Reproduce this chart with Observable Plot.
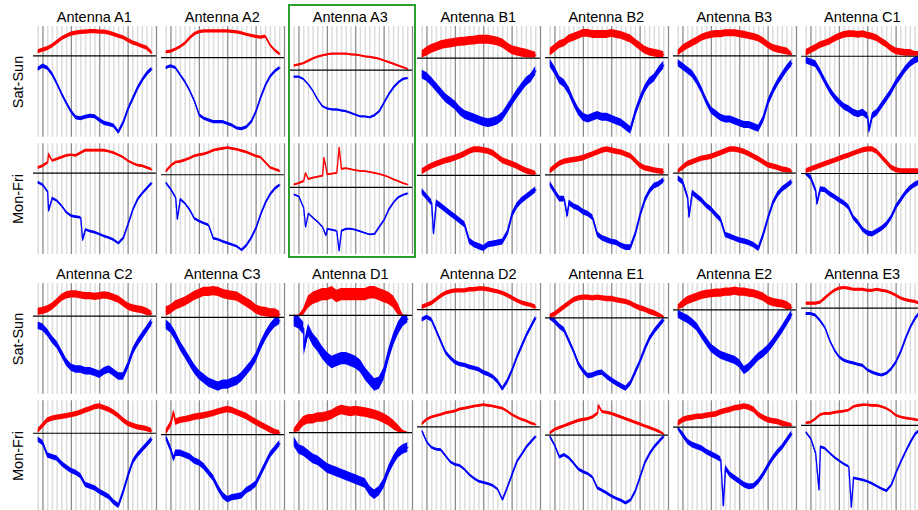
<!DOCTYPE html>
<html><head><meta charset="utf-8">
<script src="https://cdn.jsdelivr.net/npm/d3@7"></script>
<script src="https://cdn.jsdelivr.net/npm/@observablehq/plot@0.6"></script>
<style>
html,body{margin:0;padding:0;background:#fff;overflow:hidden;}
#chart{position:relative;width:918px;height:510px;overflow:hidden;font-family:"Liberation Sans",Arial,Helvetica,sans-serif;color:#000;}
.ttl{position:absolute;width:123px;text-align:center;font-size:14.5px;line-height:16px;white-space:nowrap;}
.rowlab{position:absolute;width:90px;height:16px;text-align:center;font-size:14.5px;line-height:16px;transform:rotate(-90deg);transform-origin:50% 50%;white-space:nowrap;}
.panel{position:absolute;width:125px;height:254px;}
.panel svg{display:block;max-width:none;}
.hl{position:absolute;border:2px solid #2ca02c;box-sizing:border-box;}
</style></head><body><div id="chart"></div><script>
// ---------- data ----------
const antennas = ["A1","A2","A3","B1","B2","B3","C1","C2","C3","D1","D2","E1","E2","E3"];
const periods = ["Sat-Sun","Mon-Fri"];
const hours = d3.range(-1, 24); // one value per hour, -1 .. 23
const highlighted = "A3";

const redSatSun = [
 [4,5.5,7,9.5,13,16.5,19,21,22,22.7,23,23.5,23.5,23,23,22,20.5,19,17.5,15,12.5,11,9,7.5,3],
 [5,5.7,7.7,10,13.3,18.3,22.3,24.3,25,25,25,25,25,25,24.5,24,23,21.7,20.7,19.7,19,20,11.7,6.7,3.3],
 [4.3,5.3,6.7,9,11.3,13,14.3,15.3,16,16,16,16,15.3,15,14.3,13.3,12.7,12,11,9.3,7.7,6,4.3,2.7,1],
 [3.3,6,8.3,10,11.7,12.7,13.3,14,14.7,15,15.7,16,16.7,16.7,16.7,16,15,13.3,10,7.3,6,5,4,3.3,2.7],
 [5,8.3,11.7,13.3,16.7,18.3,20,21.7,21.7,20.7,20.7,20.7,20.7,21.7,20.7,20,18.3,16.7,13.3,10,6.7,5,4,3.3,2.7],
 [2.7,6.7,9.3,11.7,14,16.7,18.3,19.3,20,20,20.7,20.7,20.7,20,19.3,18.3,17.3,16,13.3,10,7.3,6,5,4,1.7],
 [3.3,5.7,8,10.7,12.3,14,16.7,19,20.7,21.3,21.3,20.7,21.3,20,19,17.3,14,11.3,7.3,4.7,4,3.3,3.3,2.3,2.3],
 [4,5,6.3,9,13,17.3,19.7,20.7,20.7,19.7,19,19,18.3,19,19.7,19,17.3,15.7,12.3,9,7.3,6.3,5.7,4,2.3],
 [5.3,7,10.3,12,13.7,16,18.7,20.3,22,22,22.7,22,20.3,19.3,18.7,18,15.3,12.7,10.3,7,5.3,4.7,3.7,3.7,2.7],
 [0,0,3,11.7,15,16.7,18.3,18.3,20,16.7,18.3,18.3,18.3,18.3,18.3,18.3,20,20,18.3,16.7,15,11.7,5,0,0],
 [2.3,4,5.7,9,12.3,15,16.3,17.3,17.3,17.3,18.3,18.3,19,19,18.3,17.3,16.3,15,13,10.7,8.3,6.3,5,4,2.3],
 [1.7,3.3,6.7,10,13.3,16.7,18.3,19,19,18.3,19,18.3,17.7,17.7,16.7,15.7,15,13.3,11,9,7.7,5.7,4.3,2.3,1],
 [2.3,5.7,9,10.7,12.3,14,15,15.7,16.3,16.3,17.3,17.3,18.3,17.3,17.3,16.3,15.7,14,12.3,9,7.3,6.3,5.7,4,2.3],
 [4.3,4.3,4.3,5.3,9.3,13.3,16.7,18.7,19.3,18.7,17.7,17.7,17.7,16.7,16.7,17.7,16.7,16,14.3,12,9.3,7.7,6.7,6,4.3]
];
const blueSatSun = [
 [-13,-10,-12,-18,-27,-37,-46,-54,-60,-61,-59.5,-58.5,-59,-62.5,-65.5,-66.5,-68,-74,-65,-52,-42,-32,-24,-17.5,-13],
 [-10,-8.3,-10,-16.7,-23.3,-31.7,-41.7,-55,-58.3,-60,-61.7,-61.7,-61.7,-63.3,-65,-67.7,-68.3,-66.7,-61.7,-51.7,-38.3,-26.7,-18.3,-13.3,-10],
 [-6.7,-6.7,-9,-14,-20.7,-29,-35.7,-38,-39,-39,-40,-40.7,-42.3,-44,-45.7,-45.7,-46.7,-44.7,-40.7,-32.3,-24,-17.3,-12.3,-9,-8],
 [-15,-17.3,-21.7,-26.7,-31.7,-36.7,-40,-43.3,-48.3,-51.7,-53.3,-55,-56.7,-58.3,-59.3,-58.3,-56.7,-53.3,-46.7,-40,-33.3,-27.3,-21.7,-18.3,-11.7],
 [-5,-11.7,-20,-23.3,-30,-40,-48.3,-53.3,-55,-53.3,-51.7,-53.3,-53.3,-55,-56.7,-58.3,-61.7,-65,-50,-38.3,-28.3,-21.7,-18.3,-11.7,-6.7],
 [-6.7,-10,-13.3,-16.7,-23.3,-31.7,-41.7,-50,-53.3,-56.7,-58.3,-58.3,-60,-61.7,-63.3,-63.3,-65,-66.7,-58.3,-43.3,-33.3,-25,-18.3,-11.7,-6.7],
 [-4.3,-6,-7.7,-15.3,-24.3,-32.7,-39.3,-44.3,-48.7,-51,-54.3,-56,-54.3,-58,-57.7,-54.3,-47.7,-41,-34.3,-26,-19.3,-12.7,-7.7,-4.3,-2.7],
 [-9.3,-11,-16,-22.7,-27.7,-36,-44.3,-49.3,-51,-51,-52.7,-52.7,-54.3,-56,-52.7,-51,-54.3,-57.7,-57.7,-47.7,-34.3,-26,-19.3,-12.7,-6],
 [-6.3,-9.7,-16.3,-24.7,-31.3,-38,-44.7,-49.7,-53,-56.3,-58,-59.7,-58,-58,-56.3,-54.7,-51.3,-46.3,-41.3,-34.7,-24.7,-16.3,-9.7,-4.7,-3],
 [-5,-6.7,-11.7,-13.3,-21.7,-26.7,-33.3,-38.3,-41.7,-40,-38.3,-38.3,-40,-41.7,-45,-51.7,-56.7,-61.7,-60,-51.7,-35,-21.7,-11.7,-5,-3.3],
 [-9.3,-7,-9.3,-19.3,-29.3,-39.3,-44.3,-48.3,-50.3,-51,-52.7,-53.7,-55,-57.7,-59.3,-61.7,-66,-72.7,-66,-56,-44.3,-34.3,-24.3,-16,-7.7],
 [-1,-3.3,-8.3,-11.7,-21.7,-31.7,-43.3,-50,-55,-54.3,-52.3,-51.7,-55.7,-59,-61.7,-64.3,-66.7,-61.7,-51.7,-41.7,-30,-20,-13.3,-7.7,-2.3],
 [-4.3,-7,-9.3,-12.7,-17,-24.3,-31,-37.7,-41,-44.3,-46,-47.7,-49.3,-52.7,-59.3,-56,-51,-46,-42.7,-38.3,-32.7,-26,-19.3,-11.7,-4.3],
 [-5.7,-5.7,-7.3,-12.3,-19,-31.3,-40.7,-47.3,-50.7,-52.3,-53.3,-54.7,-55.7,-60,-62.3,-64,-65,-63.3,-59,-52.3,-42.3,-30,-19,-10.7,-4.7]
];
const redMonFri = [
 [5,6.7,10,11.7,13.3,15,16.7,17.3,16.7,19.3,21.7,21.7,21.7,21.7,21.7,20.7,19.3,17.3,15,11.7,9.3,7.3,6.7,5,3.3],
 [3.3,8.3,11.7,12.3,13.7,15.5,17.7,18.7,19.5,21,23,24,24.8,25.5,24.7,23.8,22.5,21.3,19.5,17.5,16.5,11.7,6.7,5,3.5],
 [2.7,4,6,8,9.3,10.3,11.3,12.7,13.3,14,18,18.7,17.7,16.7,16,15.7,15,14,13,11.7,10,7.7,6,4,2.7],
 [3.3,6,8.3,10,11.7,13.3,14.3,15.7,17.3,19.3,21.7,23.3,23.3,22.7,21.7,20,16.7,13.3,11.7,10,8.3,6,4,2.7,1.7],
 [3.3,6.7,10,11.7,12.7,13.3,14,15,16.7,18.3,20,21.7,22.7,21.7,20.7,20,18.3,16.7,12.7,8.3,6,5,4,3.3,2.7],
 [1.7,5,8.3,10,11.7,13.3,14,15,16.7,18.3,20,21.7,21.7,20.7,19.3,17.3,15,12.7,10,7.3,6,5,3.3,2.7,1.7],
 [2.3,4,5.7,7.3,9,10.7,12.3,14,15.7,17.3,19,20.7,22.3,23.3,23.3,20.7,15.7,10.7,5.7,3.3,2.3,2.3,2.3,2.3,2.3],
 [2.3,7.3,12.3,14,15,15.7,16.3,17.3,18.3,19.7,21.7,23,25,25.7,24,22.3,19.7,16.3,12.3,9,7.3,5.7,5,4,2.3],
 [2.3,9,10.7,12.3,13,14,15,15.7,16.3,17.3,18.3,19.7,20.7,21.7,20.7,19,17.3,15.7,13,10.7,8.3,6.3,4,2.3,1.7],
 [1.7,5,10,11.7,11.7,13.3,13.3,14.3,15.7,18.3,20,19,18.3,19,18.3,17.7,16.7,15.7,14.3,12.3,10,6.7,3.3,1,0],
 [2.7,6.7,8.7,10,11,12.7,13.3,14.3,16,16.7,17.7,18.7,19.3,20,19.3,18.7,17.7,16.7,14.3,11,8.7,6.7,5.3,3.3,2],
 [1.7,5,6.7,8.3,10,11.7,13.3,14.3,15,16.7,20,21.7,21,20,18.3,16.7,15,13.3,11.7,10,8.3,6.7,5,3.3,1],
 [3.3,6.7,8.3,9,10,10,11,11.7,12.3,14.3,15.7,16.7,18.3,19,20,19,16.7,11.7,9,6.7,5.7,5,3.3,2.3,1.7],
 [2,2.7,6,10,11,11,12,12.7,13.3,14.3,17.7,18.7,19.3,19.3,18.7,18.7,17.7,16,13.3,9.3,7.7,6.7,6,5.3,4.3]
];
const blueMonFri = [
 [-9.3,-11.7,-18,-24.5,-27,-32,-38.3,-41.7,-42.7,-43.3,-55,-56.7,-57.7,-59.5,-61.5,-63,-65,-68.3,-63.3,-50,-36,-26,-20,-15,-10],
 [-8,-14,-21.7,-23.5,-27.5,-33.5,-42,-44.5,-46.5,-48.3,-61,-62,-64,-65.5,-67,-68.7,-72,-67.5,-60.5,-51,-38,-27,-19,-13.5,-10],
 [-7.3,-9,-20,-25.7,-30,-34,-39,-41,-42,-43,-43,-41,-41,-42,-43.5,-45,-46.5,-46,-39,-32.3,-22,-15,-10,-7.7,-6],
 [-15,-20,-25,-25,-28.3,-31.7,-35,-38.3,-41.7,-45,-60,-63.3,-65,-66.7,-63.3,-62.7,-61.7,-60.7,-53.3,-36.7,-28.3,-23.3,-20,-16.7,-13.3],
 [-8.3,-15,-21.7,-21.7,-25,-28.3,-30,-33.3,-35,-38.3,-53.3,-56.7,-58.3,-60,-60.7,-63.3,-65,-65,-53.3,-36.7,-23.3,-15,-10,-8.3,-5],
 [-5,-8.3,-22,-18,-21.7,-25,-30,-33.3,-38.3,-42.7,-56.7,-58.3,-60,-61.7,-62.7,-64,-66,-69.3,-56.7,-41.7,-28.3,-20,-15,-11.7,-8.3],
 [-1,-4.3,-16,-15.3,-16,-20,-22.7,-26,-28.7,-32.7,-42.7,-47.7,-54.3,-57.7,-58.7,-56,-53.3,-49.3,-42.7,-32.7,-26,-19.3,-14.3,-11,-8.7],
 [-6,-9.3,-21,-22.7,-24.3,-29.3,-32.7,-36,-37.7,-41,-49.3,-51,-52.7,-56,-58.3,-61,-66,-69.3,-56,-41,-27.7,-21,-16,-11,-6],
 [-2.7,-12.7,-16,-16,-17.7,-19.3,-22.7,-24.3,-27.7,-32.7,-37.7,-46,-52.7,-56,-54.3,-53.7,-52.7,-48.3,-46,-42.7,-34.3,-26,-17.7,-12.7,-7.7],
 [-8.3,-15,-16.7,-20,-23.3,-25,-28.3,-31.7,-33.3,-35,-36.7,-38.3,-40,-41.7,-43.3,-45,-51.7,-55,-51.7,-45,-33.3,-25,-18.3,-15,-13.3],
 [-4,-14,-19,-20.7,-21.3,-26.7,-32.3,-34.7,-35.7,-39,-44,-47.3,-50,-51.3,-52.3,-54,-57.3,-66.7,-55.7,-44,-32.3,-25.7,-19,-14,-9],
 [-1.7,-10,-21,-19,-21.7,-26.7,-32.3,-35,-36.7,-40,-50,-52.3,-55,-57.7,-60,-61.7,-64.3,-61.7,-53.3,-40,-26.7,-18.3,-11.7,-6.7,-1.7],
 [-1.7,-7.7,-14.3,-17.7,-19.3,-21,-24.3,-26.7,-29,-31.7,-40,-46.7,-50,-53.3,-56.7,-58.3,-57.7,-53.3,-46.7,-38.3,-31,-25,-20,-13.3,-6.7],
 [-7,-13,-27,-21,-22.5,-27,-31,-34.5,-37.5,-40,-51,-52,-53,-54.5,-56.5,-59,-61.5,-63.5,-58,-46,-35.7,-26,-17,-9,-5]
];
// short spikes between the hourly readings: [antenna, period, series, hour, value]
const spikes = [
 ["A1","Mon-Fri","red",1.2,18.3],["A1","Mon-Fri","blue",1.2,-36.7],["A1","Mon-Fri","blue",8.4,-65],
 ["A2","Mon-Fri","blue",1.36,-42.3],
 ["A3","Mon-Fri","red",1.4,14.3],["A3","Mon-Fri","red",5.3,29.3],["A3","Mon-Fri","red",8.5,39.3],
 ["A3","Mon-Fri","blue",1.4,-39],["A3","Mon-Fri","blue",5.7,-47.3],["A3","Mon-Fri","blue",8.5,-62.3],
 ["B1","Mon-Fri","blue",1.4,-53],
 ["B2","Mon-Fri","blue",2.6,-36.7],
 ["B3","Mon-Fri","blue",1.3,-40],
 ["C1","Sat-Sun","blue",12.3,-72],["C1","Mon-Fri","blue",1.3,-29],
 ["C3","Mon-Fri","red",0.6,19],["C3","Mon-Fri","blue",0.6,-21],
 ["D1","Sat-Sun","blue",1.1,-30],
 ["E1","Mon-Fri","red",9.2,28],
 ["E2","Mon-Fri","blue",8.55,-76.7],
 ["E3","Mon-Fri","blue",1.7,-62.3],["E3","Mon-Fri","blue",8.55,-79]
];
// visual thickness of the noisy traces (style, per antenna)
const noiseSatSun = [4,3,2,8,7,6.5,6.5,7,8,11,4,5,8,3];
const noiseMonFri = [2.5,2.5,1.5,5.5,5,5,5,5,5.5,8.5,2.5,3,5.5,2.5];

const minorHours = d3.range(-1, 25).filter(h => h % 6 !== 0);
const majorHours = [0, 6, 12, 18, 24];

// ---------- layout ----------
const chart = document.getElementById("chart");
const colStep = 128, left0 = 32.8, rowStep = 257, panelW = 123;

function series(i, period, kind) {
  const src = period === "Sat-Sun" ? (kind === "red" ? redSatSun : blueSatSun)
                                   : (kind === "red" ? redMonFri : blueMonFri);
  const pts = hours.map((t, j) => ({t, v: src[i][j]}));
  for (const [a, p, k, t, v] of spikes) if (a === antennas[i] && p === period && k === kind) pts.push({t, v});
  pts.sort((a, b) => a.t - b.t);
  const w = (period === "Sat-Sun" ? noiseSatSun : noiseMonFri)[i];
  return pts.map(d => {
    const h = Math.min(w / 2, Math.abs(d.v));
    const lo = kind === "red" ? Math.max(0, d.v - h) : d.v - h;
    const hi = kind === "red" ? d.v + h : Math.min(0, d.v + h);
    return {...d, period, kind, lo, hi};
  });
}

antennas.forEach((name, i) => {
  const col = i % 7, row = Math.floor(i / 7);
  const x0 = left0 + col * colStep, y0 = row * rowStep;
  const rows = [];
  for (const p of periods) for (const k of ["red", "blue"]) rows.push(...series(i, p, k));
  const vals = rows.flatMap(d => [d.lo, d.hi]);
  const dom = [Math.min(0, d3.min(vals)), Math.max(0, d3.max(vals))];

  const svg = Plot.plot({
    width: panelW + 2, height: 254,
    marginTop: 26, marginRight: 2, marginBottom: 0, marginLeft: 0,
    x: {domain: [-2, 24], axis: null},
    y: {domain: dom, axis: null, insetTop: 3, insetBottom: 3},
    fy: {domain: periods, axis: null, paddingInner: 0.055, paddingOuter: 0, round: false},
    facet: {data: rows, y: "period"},
    marks: [
      Plot.ruleX(minorHours, {stroke: "#dcdcdc", strokeWidth: 1.5}),
      Plot.ruleX(majorHours, {stroke: "#8c8c8c", strokeWidth: 1.3}),
      Plot.areaY(rows, {filter: d => d.kind === "red", x: "t", y1: "lo", y2: "hi", fill: "#ff0000"}),
      Plot.line(rows, {filter: d => d.kind === "red", x: "t", y: "v", stroke: "#ff0000", strokeWidth: 1.3}),
      Plot.areaY(rows, {filter: d => d.kind === "blue", x: "t", y1: "lo", y2: "hi", fill: "#0000ff"}),
      Plot.line(rows, {filter: d => d.kind === "blue", x: "t", y: "v", stroke: "#0000ff", strokeWidth: 1.3}),
      Plot.ruleY([0], {stroke: "#000", strokeWidth: 1.2})
    ]
  });
  const wrap = document.createElement("div");
  wrap.className = "panel";
  wrap.style.left = x0 + "px";
  wrap.style.top = y0 + "px";
  wrap.appendChild(svg);
  chart.appendChild(wrap);

  const ttl = document.createElement("div");
  ttl.className = "ttl";
  ttl.textContent = "Antenna " + name;
  ttl.style.left = x0 + "px";
  ttl.style.top = (y0 + 8.5) + "px";
  chart.appendChild(ttl);

  if (name === highlighted) {
    const hl = document.createElement("div");
    hl.className = "hl";
    hl.style.left = (x0 - 1) + "px";
    hl.style.top = (y0 + 4) + "px";
    hl.style.width = "128px";
    hl.style.height = "254px";
    chart.appendChild(hl);
  }
});

// row labels
[0, 1].forEach(row => {
  [["Sat-Sun", 81.5], ["Mon-Fri", 198.5]].forEach(([lab, cy]) => {
    const d = document.createElement("div");
    d.className = "rowlab";
    d.textContent = lab;
    d.style.left = (17.5 - 45) + "px";
    d.style.top = (row * rowStep + cy - 8) + "px";
    chart.appendChild(d);
  });
});
</script></body></html>
